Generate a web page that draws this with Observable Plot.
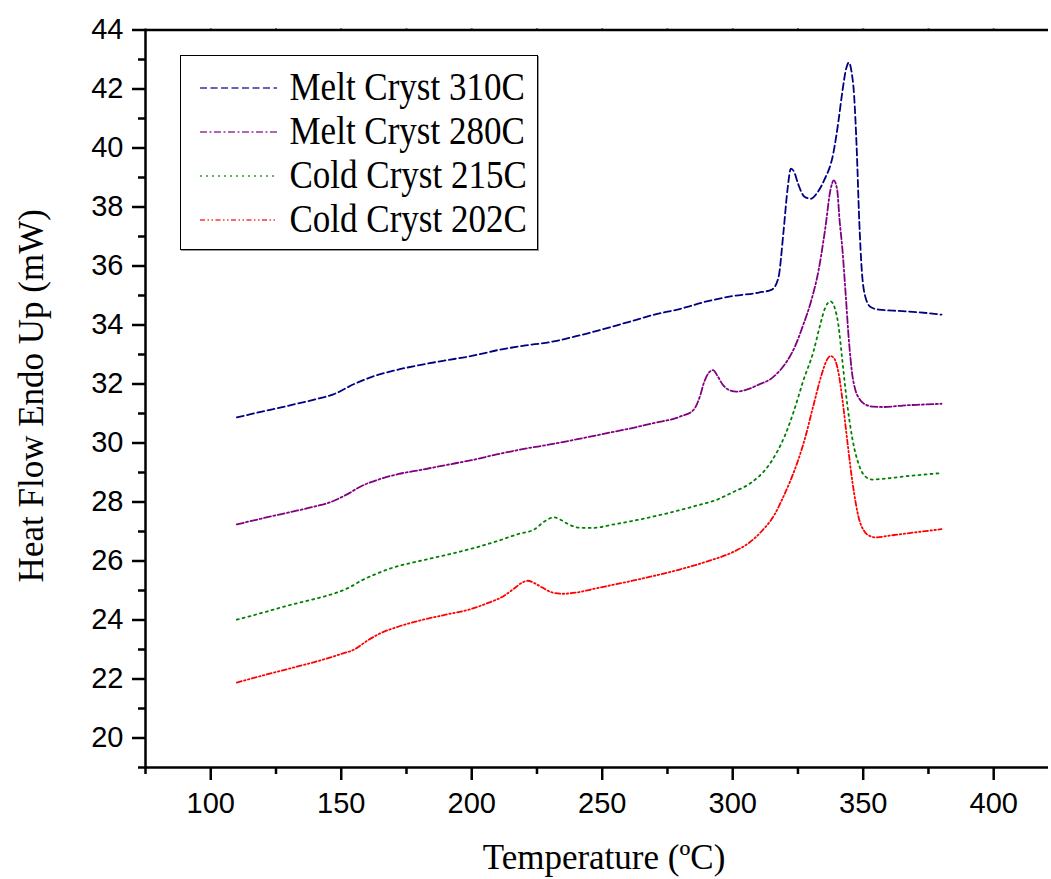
<!DOCTYPE html>
<html><head><meta charset="utf-8">
<script src="https://cdn.jsdelivr.net/npm/d3@7"></script>
<script src="https://cdn.jsdelivr.net/npm/@observablehq/plot@0.6"></script>
<style>
body{margin:0;background:#fff}
#wrap{position:relative;width:1051px;height:879px}
#legend{position:absolute;left:180px;top:55px;width:358px;height:195px;border:1.5px solid #000;box-shadow:1px 1px 0 #999;background:#fff;padding-top:10px;box-sizing:border-box}
.row{height:44px;display:flex;align-items:center;font-family:"Liberation Serif",serif;font-size:35px;color:#000;white-space:nowrap}
.row svg{margin-left:18.5px;margin-right:13px;flex:none}
.row span{display:inline-block;transform:scaleY(1.12)}
</style></head>
<body><div id="wrap"><div id="legend"></div></div>
<script>
const seriesNames = ["Melt Cryst 310C","Melt Cryst 280C","Cold Cryst 215C","Cold Cryst 202C"];
const seriesColors = ["#000080","#800080","#008000","#ff0000"];
const seriesDash = ["7,3.5","7,2.5,2,2.5","2,4","5,2.5,1.5,2.5,1.5,2.5"];

const melt310 = [[110,30.87],[120,31.07],[130,31.27],[140,31.48],[147,31.65],[155,32.0],[162,32.25],[170,32.45],[180,32.64],[190,32.8],[200,32.95],[210,33.15],[220,33.3],[230,33.42],[240,33.62],[250,33.85],[260,34.1],[270,34.35],[280,34.55],[290,34.8],[300,34.98],[310,35.1],[315,35.2],[317.5,35.6],[319.5,37.2],[321,38.6],[322.3,39.3],[323.5,39.2],[325,38.8],[327.5,38.35],[330,38.28],[332.5,38.5],[335,38.9],[338.5,39.8],[340.5,40.9],[342,41.9],[343.5,42.7],[344.5,42.9],[345.5,42.6],[346.5,41.8],[347.5,40.0],[348.5,37.5],[349.5,35.8],[351,34.9],[353,34.6],[356,34.52],[365,34.47],[375,34.4],[380,34.35]];
const melt280 = [[110,27.24],[120,27.45],[130,27.65],[140,27.85],[146,28.0],[152,28.25],[158,28.55],[165,28.78],[172,28.95],[180,29.08],[190,29.25],[200,29.42],[210,29.62],[220,29.8],[230,29.95],[240,30.12],[250,30.3],[260,30.48],[270,30.68],[280,30.9],[285,31.12],[287.5,31.6],[289,32.05],[291,32.4],[292.5,32.47],[294,32.3],[296,32.0],[298.5,31.8],[301.5,31.74],[305,31.8],[310,31.98],[315,32.2],[318,32.45],[321,32.8],[324,33.3],[327,34.0],[330,34.8],[333,35.9],[335.5,37.3],[337.5,38.6],[338.7,38.9],[340,38.6],[341,37.5],[342,36.6],[343.2,35.15],[344.5,33.5],[345.8,32.33],[347,31.8],[348.5,31.5],[351,31.3],[354,31.23],[358,31.22],[365,31.27],[372,31.3],[380,31.33]];
const cold215 = [[110,24.01],[120,24.25],[130,24.5],[140,24.72],[148,24.92],[153,25.1],[158,25.35],[163,25.55],[170,25.78],[180,26.0],[190,26.2],[200,26.42],[210,26.68],[218,26.92],[224,27.07],[228,27.35],[231.5,27.48],[234,27.4],[237,27.25],[241,27.13],[246,27.12],[255,27.25],[265,27.42],[275,27.62],[285,27.85],[294,28.08],[300,28.33],[307,28.65],[313,29.15],[317,29.7],[320,30.25],[323.5,31.1],[327,32.1],[331,33.12],[333.5,34.0],[335.5,34.6],[337.5,34.8],[339,34.6],[340.5,34.0],[342,32.8],[343.9,31.3],[345.8,30.17],[348.3,29.27],[351,28.85],[353.5,28.76],[357,28.78],[365,28.86],[372,28.92],[380,28.98]];
const cold202 = [[110,21.88],[120,22.12],[130,22.35],[140,22.58],[150,22.85],[155,23.0],[160,23.3],[165,23.55],[172,23.78],[180,23.98],[190,24.18],[200,24.38],[206,24.57],[212,24.8],[216,25.05],[219,25.25],[221.5,25.33],[224,25.25],[227,25.1],[231,24.93],[235,24.89],[240,24.93],[248,25.08],[260,25.3],[270,25.5],[280,25.72],[290,25.98],[300,26.3],[306,26.6],[311,27.0],[316,27.57],[319,28.1],[322,28.7],[325,29.4],[327.5,30.1],[331,31.3],[334,32.3],[336,32.8],[337.5,32.95],[339,32.85],[340.5,32.4],[342,31.5],[344,30.0],[346,28.6],[348.3,27.46],[350.5,27.0],[352.5,26.85],[355,26.8],[360,26.86],[370,26.97],[380,27.08]];
const allSeries = [melt310, melt280, cold215, cold202];

const xMajor = [100,150,200,250,300,350,400];
const xMinor = [75,125,175,225,275,325,375];
const yMajor = [20,22,24,26,28,30,32,34,36,38,40,42,44];
const yMinor = [19,21,23,25,27,29,31,33,35,37,39,41,43];

const lineMarks = allSeries.map((s, i) => Plot.line(s, {
  x: d => d[0], y: d => d[1], curve: "monotone-x",
  stroke: seriesColors[i], strokeWidth: 1.8, strokeDasharray: seriesDash[i]
}));

const chart = Plot.plot({
  width: 1051, height: 879,
  marginLeft: 145, marginRight: 3, marginTop: 29.5, marginBottom: 112,
  style: {fontFamily: "'Liberation Sans', Arial, sans-serif", fontSize: "29px", color: "#000", background: "#fff"},
  x: {domain: [75, 421]},
  y: {domain: [19, 44]},
  marks: [
    ...lineMarks,
    Plot.axisX(xMajor, {tickSize: 13, tickPadding: 12, strokeWidth: 2.5, fontSize: 29, label: null}),
    Plot.axisX(xMinor, {tickSize: 7, strokeWidth: 2.5, text: null, label: null}),
    Plot.axisX(xMajor.concat(xMinor), {anchor: "top", tickSize: 2, strokeWidth: 2, text: null, label: null}),
    Plot.axisY(yMajor, {tickSize: 13, tickPadding: 9, strokeWidth: 2.5, fontSize: 29, label: null}),
    Plot.axisY(yMinor, {tickSize: 7, strokeWidth: 2.5, text: null, label: null}),
    Plot.ruleX([75], {strokeWidth: 2.5}),
    Plot.ruleY([19], {strokeWidth: 2.5}),
    Plot.ruleY([44], {strokeWidth: 2.5}),
    Plot.text(["Temperature (ºC)"], {frameAnchor: "bottom", dx: 7, dy: 90, fontFamily: "'Liberation Serif', serif", fontSize: 35, lineAnchor: "middle", textAnchor: "middle"}),
    Plot.text(["Heat Flow Endo Up (mW)"], {frameAnchor: "left", rotate: -90, dx: -114, dy: -3, fontFamily: "'Liberation Serif', serif", fontSize: 35, lineAnchor: "middle", textAnchor: "middle"})
  ]
});
document.getElementById("wrap").prepend(chart);

const legend = document.getElementById("legend");
seriesNames.forEach((name, i) => {
  const row = document.createElement("div");
  row.className = "row";
  row.innerHTML = `<svg width="77" height="10"><line x1="0" x2="77" y1="5" y2="5" stroke="${seriesColors[i]}" stroke-width="1.5" stroke-dasharray="${seriesDash[i]}" opacity="0.8"/></svg><span>${name}</span>`;
  legend.appendChild(row);
});
</script>
</body></html>
